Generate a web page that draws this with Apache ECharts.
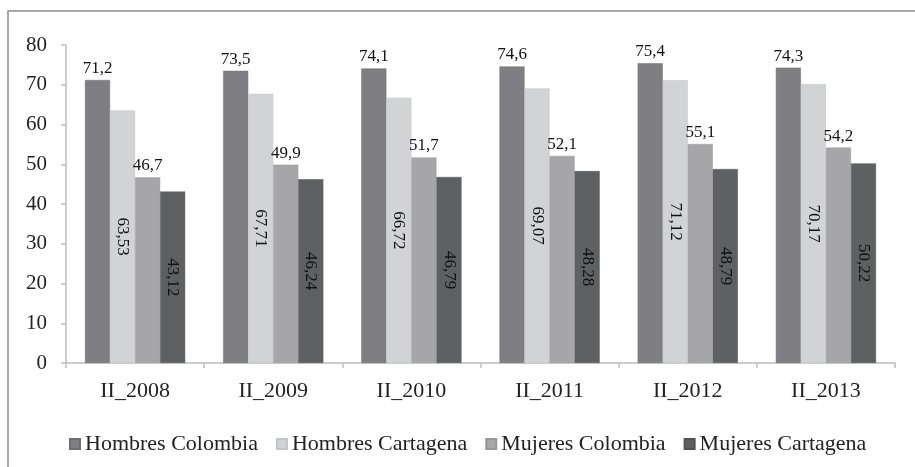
<!DOCTYPE html>
<html>
<head>
<meta charset="utf-8">
<script src="https://cdn.jsdelivr.net/npm/echarts@6/dist/echarts.min.js"></script>
<style>
  html, body { margin: 0; padding: 0; background: #fff; }
  #chart { width: 915px; height: 467px; }
</style>
</head>
<body>
<div id="chart"></div>
<script>
// datos del grafico
const categories = ['II_2008', 'II_2009', 'II_2010', 'II_2011', 'II_2012', 'II_2013'];
const hombresColombia = [71.2, 73.5, 74.1, 74.6, 75.4, 74.3];
const hombresCartagena = [63.53, 67.71, 66.72, 69.07, 71.12, 70.17];
const mujeresColombia = [46.7, 49.9, 51.7, 52.1, 55.1, 54.2];
const mujeresCartagena = [43.12, 46.24, 46.79, 48.28, 48.79, 50.22];
const seriesNames = ['Hombres Colombia', 'Hombres Cartagena', 'Mujeres Colombia', 'Mujeres Cartagena'];

const FONT = '"Liberation Serif", "DejaVu Serif", serif';

function coma(v, dec) {
  return v.toFixed(dec).replace('.', ',');
}

const chart = echarts.init(document.getElementById('chart'), null, { renderer: 'canvas' });

const topLabel = {
  show: true,
  position: 'top',
  distance: 3,
  color: '#111',
  fontFamily: FONT,
  fontSize: 17,
  formatter: p => coma(p.value, 1)
};

const insideLabel = {
  show: true,
  position: 'inside',
  rotate: -90,
  color: '#111',
  fontFamily: FONT,
  fontSize: 17,
  formatter: p => coma(p.value, 2)
};

const option = {
  animation: false,
  backgroundColor: '#fff',
  color: ['#7f7f83', '#d2d3d5', '#a6a6a9', '#5f6062'],
  textStyle: { fontFamily: FONT },
  graphic: [{
    type: 'rect',
    shape: { x: 8, y: 11, width: 1000, height: 600 },
    style: { fill: 'none', stroke: '#8c8c8c', lineWidth: 1.5 },
    silent: true
  }],
  grid: {
    left: 66,
    right: 20,
    top: 45,
    bottom: 104
  },
  legend: {
    left: 64,
    top: 428,
    itemWidth: 10,
    itemHeight: 10,
    itemGap: 18,
    icon: 'rect',
    textStyle: { fontFamily: FONT, fontSize: 22, color: '#222' },
    data: seriesNames
  },
  xAxis: {
    type: 'category',
    data: categories,
    axisLine: { lineStyle: { color: '#bdbdbd', width: 1.5 } },
    axisTick: { show: true, length: 5, lineStyle: { color: '#bdbdbd', width: 1.5 } },
    axisLabel: { fontFamily: FONT, fontSize: 22, color: '#222', margin: 17 }
  },
  yAxis: {
    type: 'value',
    min: 0,
    max: 80,
    interval: 10,
    axisLine: { show: true, lineStyle: { color: '#bdbdbd', width: 1.5 } },
    axisTick: { show: true, length: 5, lineStyle: { color: '#bdbdbd', width: 1.5 } },
    splitLine: { show: false },
    axisLabel: { fontFamily: FONT, fontSize: 21, color: '#222', margin: 19 }
  },
  series: [
    {
      name: seriesNames[0], type: 'bar', data: hombresColombia,
      barGap: '0%', barCategoryGap: '27.5%',
      itemStyle: { borderColor: '#6f6f73', borderWidth: 0.5 },
      label: topLabel
    },
    {
      name: seriesNames[1], type: 'bar', data: hombresCartagena,
      itemStyle: { borderColor: '#c4c5c7', borderWidth: 0.5 },
      label: insideLabel
    },
    {
      name: seriesNames[2], type: 'bar', data: mujeresColombia,
      itemStyle: { borderColor: '#98989b', borderWidth: 0.5 },
      label: topLabel
    },
    {
      name: seriesNames[3], type: 'bar', data: mujeresCartagena,
      itemStyle: { borderColor: '#545557', borderWidth: 0.5 },
      label: insideLabel
    }
  ]
};

chart.setOption(option);
</script>
</body>
</html>
